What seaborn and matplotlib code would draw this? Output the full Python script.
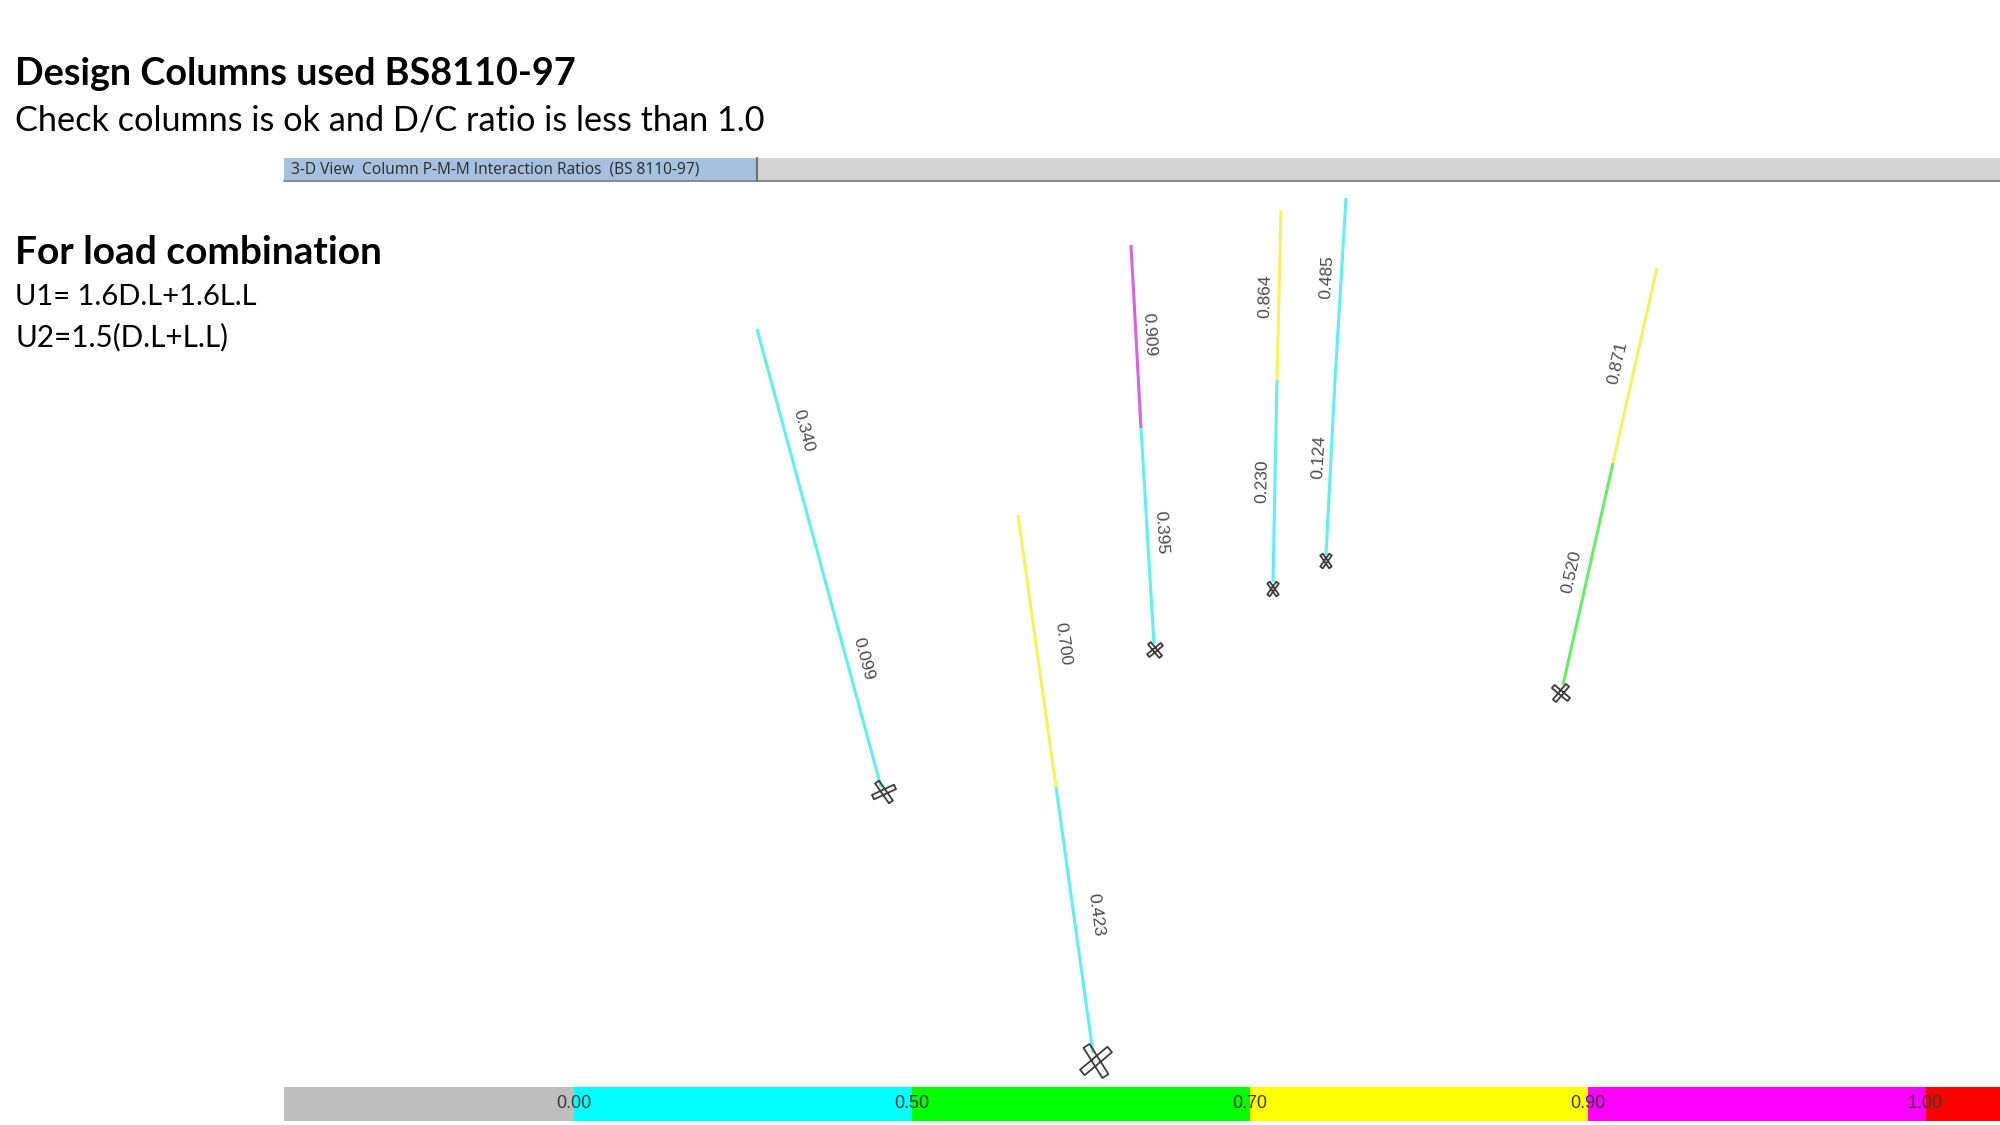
import numpy as np
import pandas as pd
import seaborn as sns
import matplotlib.pyplot as plt
from matplotlib.markers import MarkerStyle
from matplotlib.path import Path

sns.set_theme(style="white")

# ratio bands of the legend
band_names = ["none", "0.00-0.50", "0.50-0.70", "0.70-0.90", "0.90-1.00", "over"]
band_colors = ["#bebebe", "#00ffff", "#00ff00", "#ffff00", "#ff00ff", "#ff0000"]
line_colors = ["#bebebe", "#5ff0f0", "#66ee66", "#f4f45c", "#d860e8", "#ff0000"]
band_widths = [0.858, 1, 1, 1, 1, 0.22]
band_labels = ["0.00", "0.50", "0.70", "0.90", "1.00"]
band_limits = [0.0, 0.5, 0.7, 0.9, 1.0]

# columns (screen pixels)
top_x = [757, 1018, 1131, 1281, 1346, 1657]
top_y = [329, 515, 245, 210, 198, 268]
mid_x = [819, 1056, 1141, 1277, 1335, 1613]
mid_y = [558, 787, 428, 380, 380, 463]
bot_x = [881, 1093, 1154, 1273, 1326, 1563]
bot_y = [787, 1053, 644, 582, 555, 685]

upper_ratio = [0.340, 0.700, 0.909, 0.864, 0.485, 0.871]
lower_ratio = [0.099, 0.423, 0.395, 0.230, 0.124, 0.520]
upper_text_x = [803, 1063, 1149, 1265, 1327, 1618]
upper_text_y = [431, 644, 335, 296, 277, 363]
lower_text_x = [863, 1096, 1161, 1262, 1319, 1572]
lower_text_y = [659, 915, 533, 481, 457, 572]

# section symbol at each column base
base_x = [884, 1096, 1155, 1273, 1326, 1561]
base_y = [792, 1061, 650, 589, 561, 693]
base_size = [300, 600, 130, 110, 110, 170]
arm_one = [25, 40, 40, 55, 55, 50]
arm_two = [-55, -58, -50, -55, -55, -40]


def ratio_color(r):
    for i, lim in enumerate(band_limits[1:]):
        if r < lim:
            return line_colors[i + 1]
    return line_colors[-1]


def cross_marker(a1, a2, half=0.2):
    # two thin crossed rectangles, as the section is drawn in the 3-D view
    parts = []
    for a in (a1, a2):
        c, s = np.cos(np.radians(a)), np.sin(np.radians(a))
        rect = [(-1, -half), (1, -half), (1, half), (-1, half), (-1, -half)]
        verts = [(c * u - s * v, s * u + c * v) for u, v in rect]
        parts.append(Path(verts, closed=True))
    return MarkerStyle(Path.make_compound_path(*parts))


plt.rcParams["font.family"] = ["Lato", "DejaVu Sans"]

fig = plt.figure(figsize=(20, 11.25), dpi=100)
ax = fig.add_axes([0, 0, 1, 1])
ax.set_xlim(0, 2000)
ax.set_ylim(1125, 0)
ax.axis("off")

# window strip
ax.fill_between([284, 2000], 158, 180, color="#d4d4d4", lw=0)
ax.plot([284, 2000], [180.5, 180.5], color="#8c8c8c", lw=1.5)
ax.fill_between([284, 757], 158, 180, color="#a6c0e0", lw=0)
ax.plot([757, 757], [158, 181], color="#707070", lw=1.5)
ax.text(291, 169, "3-D View  Column P-M-M Interaction Ratios  (BS 8110-97)",
        fontsize=11.2, family=["Open Sans", "DejaVu Sans"], color="#2a2a2a",
        va="center")

# headings
ax.text(15, 74, "Design Columns used BS8110-97", fontsize=27.2, fontweight="bold",
        color="black", va="center")
ax.text(15, 121, "Check columns is ok and D/C ratio is less than 1.0", fontsize=24.7,
        color="black", va="center")
ax.text(15, 253, "For load combination", fontsize=28, fontweight="bold",
        color="black", va="center")
ax.text(15, 297, "U1= 1.6D.L+1.6L.L", fontsize=21, color="black", va="center")
ax.text(15, 337, "U2=1.5(D.L+L.L)", fontsize=21.3, color="black", va="center")

# columns
for i in range(len(top_x)):
    upper = pd.DataFrame({"x": [top_x[i], mid_x[i]], "y": [top_y[i], mid_y[i]]})
    lower = pd.DataFrame({"x": [mid_x[i], bot_x[i]], "y": [mid_y[i], bot_y[i]]})
    sns.lineplot(data=upper, x="x", y="y", ax=ax, sort=False, estimator=None,
                 color=ratio_color(upper_ratio[i]), lw=2.2, legend=False,
                 solid_capstyle="butt")
    sns.lineplot(data=lower, x="x", y="y", ax=ax, sort=False, estimator=None,
                 color=ratio_color(lower_ratio[i]), lw=2.2, legend=False,
                 solid_capstyle="butt")

    # text follows the column direction
    ang = np.degrees(np.arctan2(bot_y[i] - top_y[i], bot_x[i] - top_x[i]))
    rot = -ang if ang < 90 else 180 - ang
    for val, tx, ty in [(upper_ratio[i], upper_text_x[i], upper_text_y[i]),
                        (lower_ratio[i], lower_text_x[i], lower_text_y[i])]:
        ax.text(tx, ty, f"{val:.3f}", rotation=rot, rotation_mode="anchor",
                ha="center", va="center", fontsize=12.5,
                family=["Liberation Sans", "DejaVu Sans"], color="#4a4a4a")

    sns.scatterplot(x=[base_x[i]], y=[base_y[i]], ax=ax,
                    marker=cross_marker(arm_one[i], arm_two[i]), s=base_size[i],
                    linewidth=1.3, legend=False, zorder=5)
    pts = ax.collections[-1]
    pts.set_facecolor("none")
    pts.set_edgecolor("#3c3c3c")

ax.set_xlim(0, 2000)
ax.set_ylim(1125, 0)
ax.set_xlabel("")
ax.set_ylabel("")

# colour legend, drawn longest band first so the shorter ones sit on top
band_ends = np.cumsum(band_widths)
bar_ax = fig.add_axes([284 / 2000, 1 - 1121 / 1125, 1716 / 2000, 34 / 1125])
bands = pd.DataFrame({"band": band_names, "end": band_ends, "color": band_colors})
for _, row in bands[::-1].iterrows():
    sns.barplot(x=[row["end"]], y=[0], orient="h", color=row["color"], width=1,
                saturation=1, ax=bar_ax, legend=False, linewidth=0)
bar_ax.set_xlim(0, band_ends[-1])
bar_ax.axis("off")
for pos, lab in zip(band_ends[:-1], band_labels):
    bar_ax.text(pos, 0, lab, ha="center", va="center", fontsize=13,
                family=["Liberation Sans", "DejaVu Sans"], color="#3a3a3a")

fig.savefig("out.png", dpi=100)
